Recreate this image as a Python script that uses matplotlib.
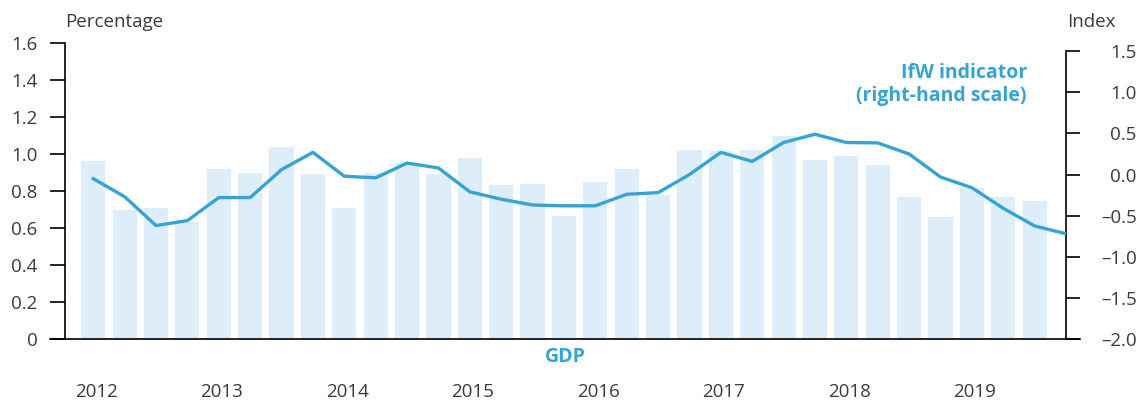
import matplotlib
matplotlib.use("Agg")
import matplotlib.pyplot as plt
import numpy as np

plt.rcParams['font.family'] = ['Open Sans', 'DejaVu Sans']

# quarterly GDP growth, 2012Q1 - 2019Q3 (left scale, %)
gdp = [0.96, 0.70, 0.71, 0.63, 0.92, 0.90, 1.04, 0.89,
       0.71, 0.90, 0.95, 0.89, 0.98, 0.83, 0.84, 0.665,
       0.85, 0.92, 0.78, 1.02, 1.015, 1.02, 1.10, 0.97,
       0.99, 0.94, 0.77, 0.66, 0.815, 0.77, 0.745]

# IfW indicator, 2012Q1 - 2019Q4 (right scale, index)
ifw = [-0.05, -0.27, -0.62, -0.56, -0.28, -0.28, 0.06, 0.27,
       -0.02, -0.04, 0.14, 0.08, -0.21, -0.30, -0.37, -0.38,
       -0.38, -0.24, -0.22, 0.0, 0.27, 0.16, 0.39, 0.49,
       0.39, 0.385, 0.25, -0.03, -0.16, -0.41, -0.625, -0.72]

years = ['2012', '2013', '2014', '2015', '2016', '2017', '2018', '2019']
left_ticks = [0, 0.2, 0.4, 0.6, 0.8, 1.0, 1.2, 1.4, 1.6]
left_labels = ['0', '0.2', '0.4', '0.6', '0.8', '1.0', '1.2', '1.4', '1.6']
right_ticks = [-2.0, -1.5, -1.0, -0.5, 0.0, 0.5, 1.0, 1.5]
right_labels = ['–2.0', '–1.5', '–1.0', '–0.5', '0.0', '0.5', '1.0', '1.5']

bar_col = '#ddedf9'
line_col = '#35a3d4'
txt_col = '#3a3a3a'

fig = plt.figure(figsize=(11.45, 4.03), dpi=100)
ax = fig.add_axes([0.0568, 0.1588, 0.8742, 0.7345])

ax.bar(np.arange(len(gdp)), gdp, width=0.77, color=bar_col, zorder=1)
ax.set_xlim(-0.9, 31)
ax.set_ylim(0, 1.6)
ax.set_yticks(left_ticks)
ax.set_yticklabels(left_labels)
ax.tick_params(axis='y', direction='out', length=11, width=1.2, pad=9,
               labelsize=13.5, labelcolor=txt_col)
ax.set_xticks([4 * i + 0.1 for i in range(len(years))])
ax.set_xticklabels(years)
ax.tick_params(axis='x', length=0, pad=32, labelsize=13.5, labelcolor=txt_col)
for s in ['top', 'right', 'bottom']:
    ax.spines[s].set_visible(False)
ax.spines['left'].set_linewidth(1.2)
ax.axhline(0, xmin=-0.015, xmax=1.014, color='black', lw=1.2, clip_on=False, zorder=5)

ax2 = ax.twinx()
ax2.plot(np.arange(len(ifw)), ifw, color=line_col, lw=2.4, zorder=3)
ax2.set_ylim(-2.0, 1.6)
ax2.set_yticks(right_ticks)
ax2.set_yticklabels(right_labels, ha='right')
ax2.tick_params(axis='y', direction='out', length=10, width=1.2, pad=41,
                labelsize=13.5, labelcolor=txt_col)
for s in ['top', 'left', 'bottom']:
    ax2.spines[s].set_visible(False)
ax2.spines['right'].set_linewidth(1.2)
ax2.spines['right'].set_bounds(-2.0, 1.5)

ax.text(0.0, 1.07, 'Percentage', transform=ax.transAxes, ha='left', va='center',
        fontsize=13.5, color=txt_col)
ax.text(1.001, 1.07, 'Index', transform=ax.transAxes, ha='left', va='center',
        fontsize=13.5, color=txt_col)
ax.text(0.961, 0.86, 'IfW indicator\n(right-hand scale)', transform=ax.transAxes,
        ha='right', va='center', multialignment='right', fontsize=14,
        fontweight='bold', color=line_col, linespacing=1.2)
ax.text(0.5, -0.062, 'GDP', transform=ax.transAxes, ha='center', va='center',
        fontsize=14, fontweight='bold', color=line_col)

fig.savefig('out.png', dpi=100)
